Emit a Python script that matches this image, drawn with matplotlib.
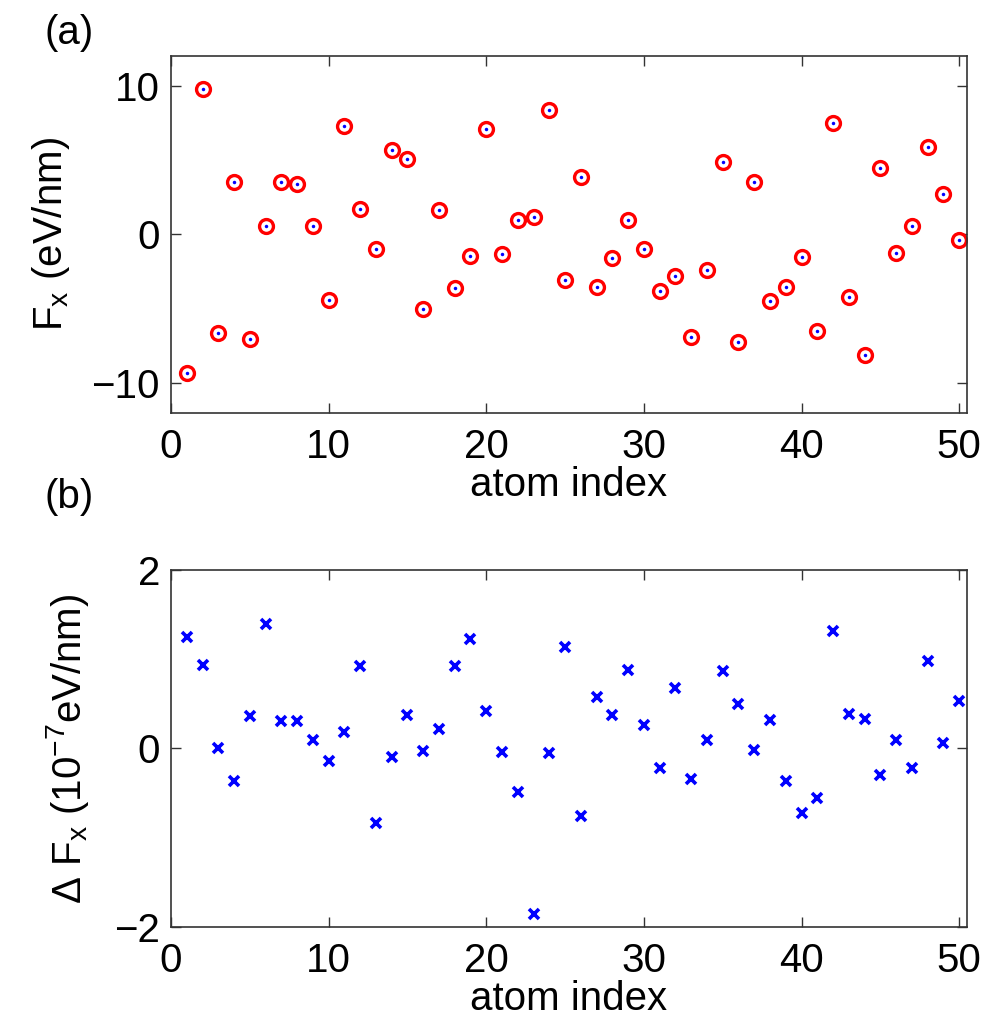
import numpy as np
import matplotlib
matplotlib.use('Agg')
import matplotlib.pyplot as plt

plt.rcParams['font.family'] = ['Liberation Sans', 'DejaVu Sans']
plt.rcParams['mathtext.fontset'] = 'custom'
plt.rcParams['mathtext.rm'] = 'Liberation Sans'
plt.rcParams['mathtext.it'] = 'Liberation Sans:italic'

# atom index 1..50
atom_index = list(range(1, 51))

# (a) force component F_x in eV/nm
fx = [-9.34, 9.81, -6.65, 3.54, -7.01, 0.54, 3.56, 3.38, 0.60, -4.42,
      7.32, 1.70, -0.99, 5.71, 5.08, -5.04, 1.65, -3.61, -1.48, 7.08,
      -1.28, 0.96, 1.16, 8.40, -3.07, 3.83, -3.54, -1.55, 0.96, -0.99,
      -3.77, -2.76, -6.86, -2.40, 4.90, -7.22, 3.56, -4.48, -3.52, -1.50,
      -6.48, 7.50, -4.19, -8.13, 4.50, -1.24, 0.58, 5.85, 2.75, -0.34]

# (b) difference Delta F_x in 1e-7 eV/nm
dfx = [1.25, 0.94, 0.01, -0.37, 0.36, 1.40, 0.31, 0.31, 0.10, -0.14,
       0.18, 0.92, -0.84, -0.10, 0.37, -0.03, 0.22, 0.92, 1.23, 0.42,
       -0.04, -0.49, -1.86, -0.05, 1.14, -0.76, 0.58, 0.38, 0.88, 0.26,
       -0.22, 0.68, -0.34, 0.09, 0.87, 0.50, -0.02, 0.32, -0.37, -0.72,
       -0.56, 1.32, 0.39, 0.33, -0.30, 0.09, -0.22, 0.98, 0.06, 0.53]

fs = 29
fig = plt.figure(figsize=(9.92, 10.27), dpi=100)
ax1 = fig.add_axes([0.1724, 0.5979, 0.8024, 0.3476])
ax2 = fig.add_axes([0.1724, 0.0974, 0.8024, 0.3476])

def style(ax):
    ax.tick_params(direction='in', length=7, width=1.0, labelsize=fs,
                   top=True, right=True, color='#333333')
    ax.tick_params(axis='x', pad=11)
    ax.tick_params(axis='y', pad=8)
    for s in ax.spines.values():
        s.set_linewidth(1.2)
        s.set_color('#333333')
    ax.set_xlim(0, 50.5)
    ax.set_xticks([0, 10, 20, 30, 40, 50])

# panel (a)
ax1.plot(atom_index, fx, linestyle='none', marker='o', markersize=10,
         markerfacecolor='white', markeredgecolor='red', markeredgewidth=2.4)
ax1.plot(atom_index, fx, linestyle='none', marker='o', markersize=2.5,
         color='blue', markeredgewidth=0)
style(ax1)
ax1.set_ylim(-12, 12)
ax1.set_yticks([-10, 0, 10])
ax1.set_xlabel('atom index', fontsize=fs, labelpad=0)
ax1.set_ylabel(r'F$_\mathrm{x}$ (eV/nm)', fontsize=fs)
ax1.yaxis.set_label_coords(-0.125, 0.5)

# panel (b)
ax2.plot(atom_index, dfx, linestyle='none', marker='x', markersize=7,
         color='blue', markeredgewidth=2.6)
style(ax2)
ax2.set_ylim(-2, 2)
ax2.set_yticks([-2, 0, 2])
ax2.set_xlabel('atom index', fontsize=fs, labelpad=0)
ax2.set_ylabel(r'$\Delta$ F$_\mathrm{x}$ (10$^{-7}$eV/nm)', fontsize=fs)
ax2.yaxis.set_label_coords(-0.10, 0.5)

fig.text(0.045, 0.968, '(a)', fontsize=fs, ha='left', va='center')
fig.text(0.045, 0.516, '(b)', fontsize=fs, ha='left', va='center')

fig.savefig('out.png', dpi=100)
